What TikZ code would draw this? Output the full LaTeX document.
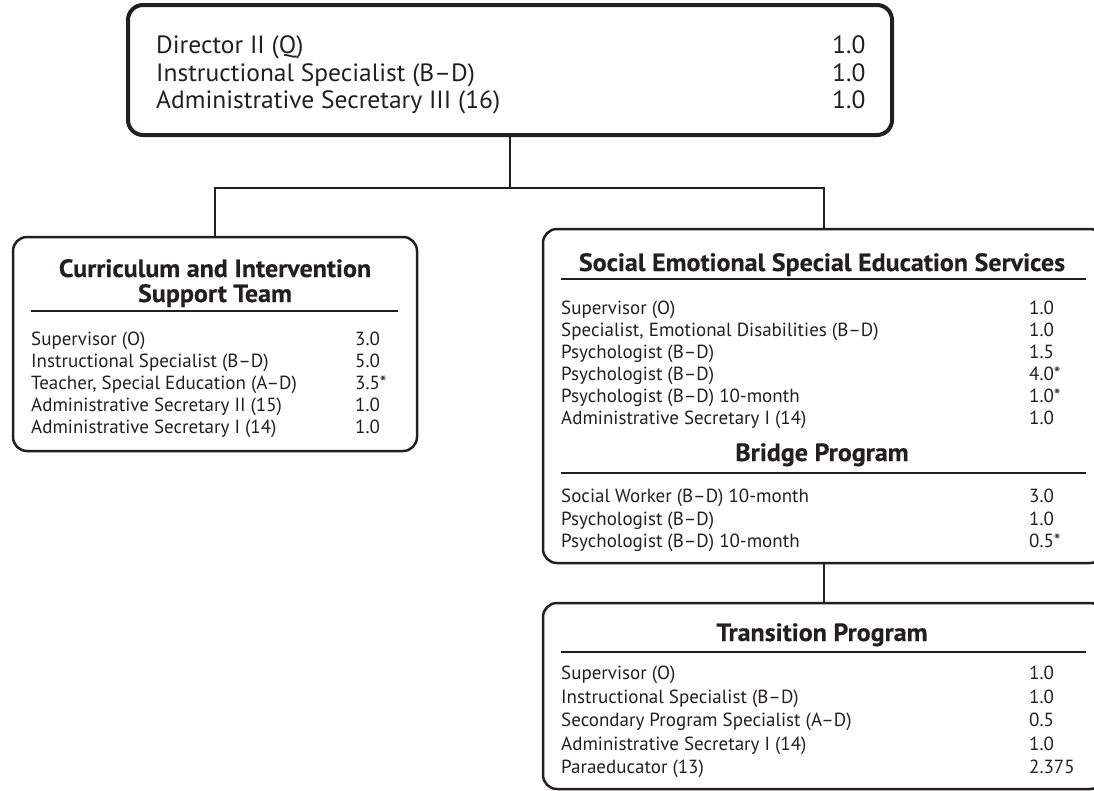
\documentclass[tikz,border=0pt]{standalone}
\usepackage{fontspec}
\newfontfamily\bodyfont{PT Sans}
\newfontfamily\headfont[FakeStretch=1.04,FakeBold=0.4]{PT Sans}
\newfontfamily\topfont[FakeStretch=1.02]{PT Sans}
\definecolor{ink}{HTML}{231F20}
\tikzset{
  topbox/.style={draw=ink, line width=4pt, rounded corners=15pt, minimum width=764pt, minimum height=130pt, inner sep=0pt},
  unitbox/.style={draw=ink, line width=2.5pt, rounded corners=14pt, inner sep=0pt},
  conn/.style={draw=ink, line width=2pt},
  rulel/.style={draw=ink, line width=1.2pt},
  bodytxt/.style={anchor=base west, inner sep=0pt, text=ink, font=\bodyfont\fontsize{19}{22}\selectfont},
  toptxt/.style={anchor=base west, inner sep=0pt, text=ink, font=\topfont\fontsize{25}{28}\selectfont},
  headtxt/.style={anchor=base, inner sep=0pt, text=ink, font=\headfont\bfseries\fontsize{25}{27}\selectfont},
}
\newcommand\prow[6]{\node[bodytxt] (#1) at (#2,#4) {#5};\node[bodytxt] (#1n) at (#3,#4) {#6};}
\newcommand\trow[4]{\node[toptxt] (#1) at (156,#2) {#3};\node[toptxt] (#1n) at (832,#2) {#4};}
\begin{document}
\begin{tikzpicture}[x=1pt,y=-1pt]
\useasboundingbox (0,0) rectangle (1094,790);
% boxes
\node[topbox] (top) at (510,70) {};
\node[unitbox, minimum width=404pt, minimum height=214pt] (cist) at (215,344) {};
\node[unitbox, minimum width=561pt, minimum height=334pt] (sees) at (823.5,396) {};
\node[unitbox, minimum width=561pt, minimum height=186pt] (trans) at (823.5,696) {};
% connectors
\coordinate (bar) at (0,188);
\draw[conn] (top.south) -- (top.south |- bar);
\draw[conn] (cist.north) -- (cist.north |- bar) -- (sees.north |- bar) -- (sees.north);
\draw[conn] (sees.south) -- (trans.north);
% top box text
\trow{t1}{53}{Director II (Q)}{1.0}
\trow{t2}{81}{Instructional Specialist (B–D)}{1.0}
\trow{t3}{108}{Administrative Secretary III (16)}{1.0}
% left box
\node[headtxt] (ch1) at (215,277) {Curriculum and Intervention};
\node[headtxt] (ch2) at (215,302) {Support Team};
\coordinate (cr1) at (31,311); \coordinate (cr2) at (398,311);
\draw[rulel] (cr1) -- (cr2);
\prow{c1}{31}{355}{345.5}{Supervisor (O)}{3.0}
\prow{c2}{31}{355}{367.5}{Instructional Specialist (B–D)}{5.0}
\prow{c3}{31}{355}{389.5}{Teacher, Special Education (A–D)}{3.5*}
\prow{c4}{31}{355}{411.5}{Administrative Secretary II (15)}{1.0}
\prow{c5}{31}{355}{433.5}{Administrative Secretary I (14)}{1.0}
% SE box
\node[headtxt] (sh) at (822,271) {Social Emotional Special Education Services};
\coordinate (sr1) at (561,279); \coordinate (sr2) at (1086,279);
\draw[rulel] (sr1) -- (sr2);
\prow{s1}{561}{1029}{314.5}{Supervisor (O)}{1.0}
\prow{s2}{561}{1029}{336.5}{Specialist, Emotional Disabilities (B–D)}{1.0}
\prow{s3}{561}{1029}{358.5}{Psychologist (B–D)}{1.5}
\prow{s4}{561}{1029}{380.5}{Psychologist (B–D)}{4.0*}
\prow{s5}{561}{1029}{402.5}{Psychologist (B–D) 10-month}{1.0*}
\prow{s6}{561}{1029}{424.5}{Administrative Secretary I (14)}{1.0}
\node[headtxt] (bh) at (822,461) {Bridge Program};
\coordinate (br1) at (561,473); \coordinate (br2) at (1086,473);
\draw[rulel] (br1) -- (br2);
\prow{b1}{561}{1029}{502.5}{Social Worker (B–D) 10-month}{3.0}
\prow{b2}{561}{1029}{525}{Psychologist (B–D)}{1.0}
\prow{b3}{561}{1029}{547.5}{Psychologist (B–D) 10-month}{0.5*}
% transition box
\node[headtxt] (th) at (822,641) {Transition Program};
\coordinate (tr1) at (561,652); \coordinate (tr2) at (1086,652);
\draw[rulel] (tr1) -- (tr2);
\prow{p1}{561}{1029}{679.5}{Supervisor (O)}{1.0}
\prow{p2}{561}{1029}{703}{Instructional Specialist (B–D)}{1.0}
\prow{p3}{561}{1029}{726.5}{Secondary Program Specialist (A–D)}{0.5}
\prow{p4}{561}{1029}{750}{Administrative Secretary I (14)}{1.0}
\prow{p5}{561}{1029}{773.5}{Paraeducator (13)}{2.375}
\end{tikzpicture}
\end{document}
